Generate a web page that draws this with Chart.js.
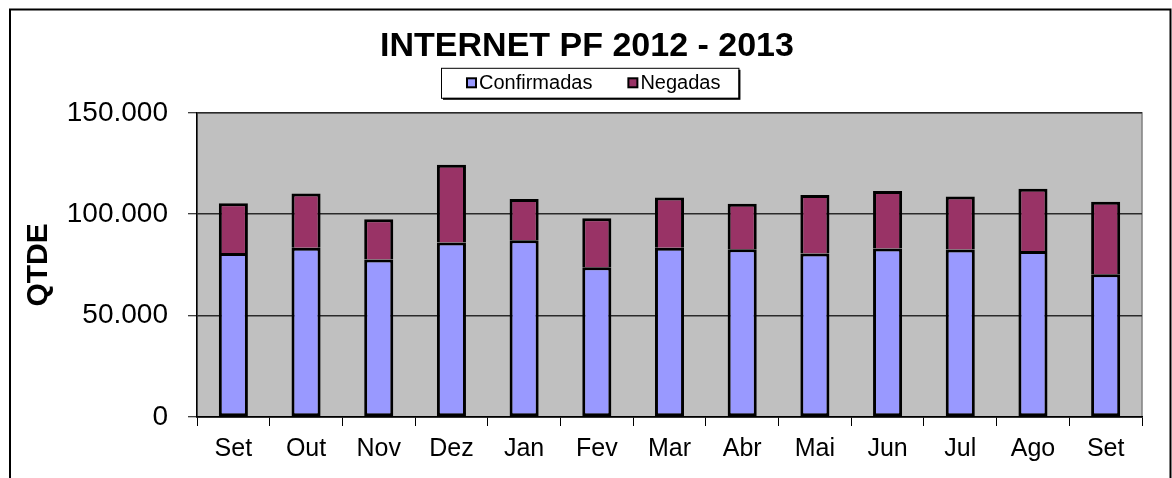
<!DOCTYPE html>
<html>
<head>
<meta charset="utf-8">
<script src="https://cdn.jsdelivr.net/npm/chart.js@4"></script>
<style>
  html, body { margin: 0; padding: 0; background: #fff; }
  canvas { display: block; }
</style>
</head>
<body>
<canvas id="chart" width="1172" height="478"></canvas>
<script>
const months = ["Set", "Out", "Nov", "Dez", "Jan", "Fev", "Mar", "Abr", "Mai", "Jun", "Jul", "Ago", "Set"];
const confirmadas = [80900, 83400, 77700, 86000, 87200, 73900, 83400, 82700, 80600, 83100, 82600, 81900, 70400];
const negadas = [24500, 26800, 19800, 38400, 20300, 24100, 24800, 22400, 28900, 28300, 26100, 30600, 35800];
const yTicks = [0, 50000, 100000, 150000];

const FONT = '"Liberation Sans", Arial, sans-serif';

function formatThousands(v) {
  return String(v).replace(/\B(?=(\d{3})+(?!\d))/g, ".");
}

// gray plot area + outer frame
const plotBackground = {
  id: "plotBackground",
  beforeDraw(chart) {
    const { ctx, chartArea: a } = chart;
    ctx.save();
    ctx.strokeStyle = "#000";
    ctx.lineWidth = 2;
    ctx.strokeRect(10, 9.5, 1160.5, 600);
    ctx.fillStyle = "#c0c0c0";
    ctx.fillRect(a.left, a.top, a.right - a.left, a.bottom - a.top);
    ctx.strokeStyle = "#808080";
    ctx.lineWidth = 1.5;
    ctx.strokeRect(a.left, a.top, a.right - a.left, a.bottom - a.top);
    ctx.restore();
  },
};

// Excel style legend in a framed box under the title
const legendBox = {
  id: "legendBox",
  afterDraw(chart) {
    const ctx = chart.ctx;
    const t = chart.titleBlock;
    const titleOpts = chart.options.plugins.title;
    ctx.save();
    ctx.font = "20px " + FONT;
    const items = chart.data.datasets.map((ds) => ({
      text: ds.label,
      color: ds.backgroundColor,
      w: ctx.measureText(ds.label).width,
    }));
    const mark = 9, gap = 3, between = 36, padL = 26, padR = 18;
    let width = padL + padR;
    items.forEach((it, i) => {
      width += mark + gap + it.w + (i > 0 ? between : 0);
    });
    const cx = (t.left + t.right) / 2 + 3;
    const left = Math.round(cx - width / 2);
    const top = t.top + titleOpts.padding.top + 1.2 * titleOpts.font.size + 1;
    const h = 30;

    ctx.fillStyle = "#000";
    ctx.fillRect(left + 2, top + 2, width, h);
    ctx.fillStyle = "#fff";
    ctx.fillRect(left, top, width, h);
    ctx.strokeStyle = "#000";
    ctx.lineWidth = 1;
    ctx.strokeRect(left + 0.5, top + 0.5, width, h);

    let x = left + padL;
    const cy = top + h / 2;
    ctx.textBaseline = "middle";
    items.forEach((it, i) => {
      if (i > 0) x += between;
      ctx.fillStyle = it.color;
      ctx.fillRect(x, cy - mark / 2, mark, mark);
      ctx.strokeStyle = "#000";
      ctx.lineWidth = 2;
      ctx.strokeRect(x, cy - mark / 2, mark, mark);
      x += mark + gap;
      ctx.fillStyle = "#000";
      ctx.fillText(it.text, x, cy + 1);
      x += it.w;
    });
    ctx.restore();
  },
};

new Chart(document.getElementById("chart"), {
  type: "bar",
  data: {
    labels: months,
    datasets: [
      {
        label: "Confirmadas",
        data: confirmadas,
        backgroundColor: "#9999ff",
        borderColor: "#000",
        borderWidth: 3,
        borderSkipped: false,
      },
      {
        label: "Negadas",
        data: negadas,
        backgroundColor: "#993366",
        borderColor: "#000",
        borderWidth: 3,
      },
    ],
  },
  options: {
    responsive: false,
    animation: false,
    devicePixelRatio: 1,
    barPercentage: 0.4,
    categoryPercentage: 1,
    layout: { padding: { top: 0, left: 32, right: 30, bottom: 6 } },
    plugins: {
      legend: { display: false },
      tooltip: { enabled: false },
      title: {
        display: true,
        text: "INTERNET PF 2012 - 2013",
        color: "#000",
        font: { family: FONT, size: 34, weight: "bold" },
        padding: { top: 26, bottom: 46 },
      },
    },
    scales: {
      x: {
        stacked: true,
        grid: {
          display: true,
          offset: true,
          drawOnChartArea: false,
          tickLength: 9,
          tickColor: "#000",
          tickWidth: 1,
        },
        border: { color: "#000", width: 1.5 },
        ticks: {
          color: "#000",
          padding: 8,
          font: { family: FONT, size: 25 },
        },
      },
      y: {
        stacked: true,
        min: 0,
        max: 150000,
        afterBuildTicks(scale) {
          scale.ticks = yTicks.map((v) => ({ value: v }));
        },
        grid: {
          color: "#2a2a2a",
          lineWidth: 1.5,
          tickLength: 9,
          tickColor: "#000",
          tickWidth: 1,
        },
        border: { color: "#000", width: 1.5 },
        ticks: {
          color: "#000",
          padding: 20,
          font: { family: FONT, size: 28 },
          callback: (v) => formatThousands(v),
        },
        title: {
          display: true,
          text: "QTDE",
          color: "#000",
          font: { family: FONT, size: 30, weight: "bold" },
          padding: { top: -11.5, bottom: -9.7 },
        },
      },
    },
  },
  plugins: [plotBackground, legendBox],
});
</script>
</body>
</html>
